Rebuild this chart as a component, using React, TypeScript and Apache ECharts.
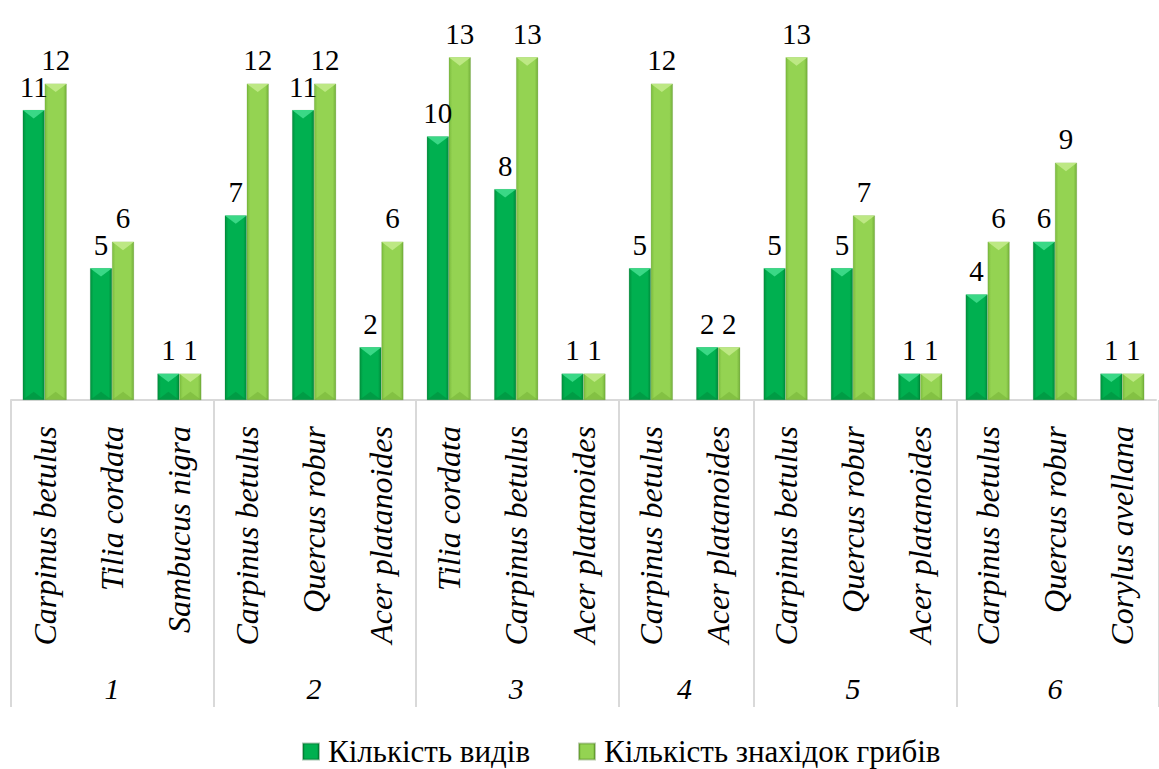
import React, { useEffect, useRef } from "react";
import * as echarts from "echarts";

const SPECIES = [
  "Carpinus betulus", "Tilia cordata", "Sambucus nigra",
  "Carpinus betulus", "Quercus robur", "Acer platanoides",
  "Tilia cordata", "Carpinus betulus", "Acer platanoides",
  "Carpinus betulus", "Acer platanoides",
  "Carpinus betulus", "Quercus robur", "Acer platanoides",
  "Carpinus betulus", "Quercus robur", "Corylus avellana",
];
const GROUP_LABELS = ["1", "2", "3", "4", "5", "6"];
const GROUP_SIZES = [3, 3, 3, 2, 3, 3];
const SPECIES_COUNT = [11, 5, 1, 7, 11, 2, 10, 8, 1, 5, 2, 5, 5, 1, 4, 6, 1];
const FINDS_COUNT = [12, 6, 1, 12, 12, 6, 13, 13, 1, 12, 2, 13, 7, 1, 6, 9, 1];
const SERIES_NAMES = ["Кількість видів", "Кількість знахідок грибів"];
const Y_MAX = 14;

const FONT = "serif";
const GAP = 0.347;

const boundaries: number[] = [];
const centers: number[] = [];
{
  let acc = 0;
  GROUP_SIZES.forEach((s) => {
    boundaries.push(acc);
    centers.push(acc + s / 2);
    acc += s;
  });
}

const barGrad = (edge: string, main: string, edge2: string) =>
  new echarts.graphic.LinearGradient(0, 0, 1, 0, [
    { offset: 0, color: edge },
    { offset: 0.15, color: main },
    { offset: 0.85, color: main },
    { offset: 1, color: edge2 },
  ]);

const bevel = (idx: number, topColor: string, botColor: string) =>
  (params: any, api: any) => {
    const i = api.value(0);
    const v = api.value(1);
    const p = api.coord([i, v]);
    const b = api.coord([i, 0]);
    const band = api.size([1, 0])[0];
    const bw = (band * (1 - GAP)) / 2;
    const x0 = idx === 0 ? p[0] - bw : p[0];
    const x1 = x0 + bw;
    const xm = (x0 + x1) / 2;
    const yT = p[1];
    const yB = b[1];
    const h = Math.min(bw * 0.38, (yB - yT) / 2);
    return {
      type: "group",
      silent: true,
      children: [
        {
          type: "polygon",
          shape: { points: [[x0, yT], [x1, yT], [xm, yT + h]] },
          style: { fill: topColor },
        },
        {
          type: "polygon",
          shape: { points: [[x0, yB], [x1, yB], [xm, yB - h]] },
          style: { fill: botColor },
        },
      ],
    };
  };

export default function App() {
  const ref = useRef<HTMLDivElement>(null);
  useEffect(() => {
    if (!ref.current) return;
    const chart = echarts.init(ref.current, undefined, { renderer: "svg" });
    const labelStyle = {
      show: true,
      position: "top" as const,
      distance: 9,
      fontSize: 29,
      fontFamily: FONT,
      color: "#000",
    };
    chart.setOption({
      animation: false,
      backgroundColor: "#fff",
      textStyle: { fontFamily: FONT },
      grid: [
        { left: 11, top: 31, width: 1161, height: 369, containLabel: false },
        { left: 11, top: 400, width: 1161, height: 307, containLabel: false },
      ],
      legend: {
        data: SERIES_NAMES,
        left: 297,
        top: 731,
        itemWidth: 16,
        itemHeight: 16,
        itemGap: 48,
        icon: "rect",
        textStyle: {
          fontSize: 31,
          lineHeight: 31,
          fontFamily: FONT,
          color: "#000",
          padding: [0, 0, 0, 4],
        },
      },
      xAxis: [
        {
          type: "category",
          gridIndex: 0,
          data: SPECIES,
          axisLine: { show: true, lineStyle: { color: "#d9d9d9", width: 2 } },
          axisTick: { show: false },
          axisLabel: {
            interval: 0,
            rotate: 90,
            margin: 26,
            fontSize: 32,
            fontStyle: "italic",
            fontFamily: FONT,
            color: "#000",
          },
        },
        {
          type: "value",
          gridIndex: 0,
          position: "bottom",
          min: 0,
          max: SPECIES.length,
          interval: 0.5,
          offset: 265,
          axisLine: { show: false },
          axisTick: { show: false },
          splitLine: { show: false },
          axisLabel: {
            margin: 8,
            fontSize: 30,
            fontStyle: "italic",
            fontFamily: FONT,
            color: "#000",
            formatter: (val: number) => {
              const k = centers.findIndex((c) => Math.abs(c - val) < 1e-6);
              return k >= 0 ? GROUP_LABELS[k] : "";
            },
          },
        },
        {
          type: "category",
          gridIndex: 1,
          data: SPECIES,
          axisLine: { show: false },
          axisTick: { show: false },
          axisLabel: { show: false },
          splitLine: {
            show: true,
            interval: (index: number) => boundaries.includes(index),
            lineStyle: { color: "#d9d9d9", width: 2 },
          },
        },
      ],
      yAxis: [
        { type: "value", gridIndex: 0, min: 0, max: Y_MAX, show: false },
        { type: "value", gridIndex: 1, min: 0, max: 1, show: false },
      ],
      series: [
        {
          name: SERIES_NAMES[0],
          type: "bar",
          xAxisIndex: 0,
          yAxisIndex: 0,
          data: SPECIES_COUNT,
          barGap: "0%",
          barCategoryGap: "34.7%",
          itemStyle: {
            color: barGrad("#00903d", "#00b050", "#008a3a"),
            borderColor: "rgba(0,90,30,0.35)",
            borderWidth: 0.5,
          },
          label: labelStyle,
        },
        {
          name: SERIES_NAMES[1],
          type: "bar",
          xAxisIndex: 0,
          yAxisIndex: 0,
          data: FINDS_COUNT,
          barGap: "0%",
          barCategoryGap: "34.7%",
          itemStyle: {
            color: barGrad("#7cbc3e", "#94d352", "#74b03a"),
            borderColor: "rgba(60,110,20,0.35)",
            borderWidth: 0.5,
          },
          label: labelStyle,
        },
        {
          name: "bevel0",
          type: "custom",
          xAxisIndex: 0,
          yAxisIndex: 0,
          silent: true,
          encode: { x: 0, y: 1 },
          data: SPECIES_COUNT.map((v, i) => [i, v]),
          renderItem: bevel(0, "#3ad886", "rgba(0,120,50,0.35)"),
          z: 3,
        },
        {
          name: "bevel1",
          type: "custom",
          xAxisIndex: 0,
          yAxisIndex: 0,
          silent: true,
          encode: { x: 0, y: 1 },
          data: FINDS_COUNT.map((v, i) => [i, v]),
          renderItem: bevel(1, "#bde884", "rgba(100,160,40,0.35)"),
          z: 3,
        },
      ],
    });
    return () => chart.dispose();
  }, []);
  return <div ref={ref} style={{ position: "absolute", left: 0, top: 0, width: 1159, height: 769 }} />;
}
